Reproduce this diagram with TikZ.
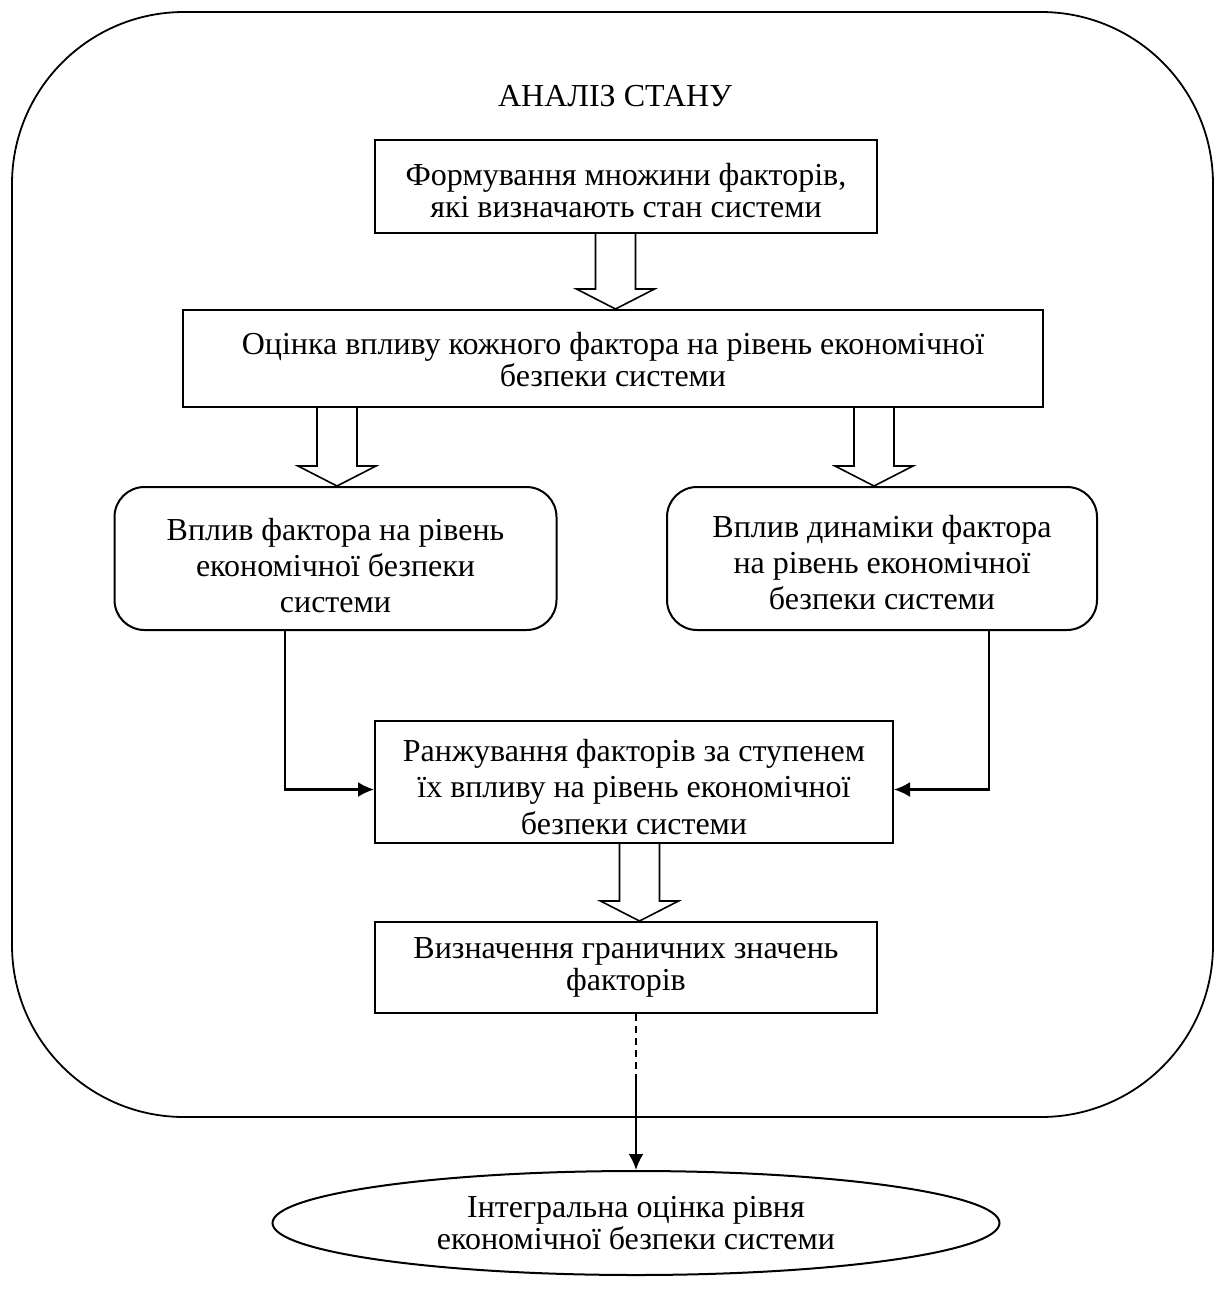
\documentclass[tikz,border=0pt]{standalone}
\usepackage{fontspec}
\setmainfont{Liberation Serif}
\usetikzlibrary{calc,arrows.meta,shapes.geometric}

\tikzset{
  txt/.style={font=\fontsize{16pt}{16pt}\selectfont, align=center},
  wide/.style={font=\fontsize{16pt}{18.2pt}\selectfont},
  box/.style={draw, line width=1pt, inner sep=0pt},
  rbox/.style={box, rounded corners=15pt},
  hollow/.style={draw, line width=0.8pt},
  conn/.style={line width=1.1pt, -{Latex[length=8pt,width=7.5pt]}},
}

% hollow block arrow from the bottom of one node to the top of the next,
% along the vertical line through coordinate #1
\newcommand\hollowarrow[3]{%
  \draw[hollow] let \p1=(#2.south -| #1), \p2=(#3.north -| #1) in
    (\x1-10pt,\y1) -- (\x1-10pt,\y2+10pt) -- (\x1-19.5pt,\y2+10pt)
    -- (\x1,\y2) -- (\x1+19.5pt,\y2+10pt) -- (\x1+10pt,\y2+10pt)
    -- (\x1+10pt,\y1);}

\begin{document}
\begin{tikzpicture}[x=0.5pt, y=-0.5pt]
  \useasboundingbox (0,0) rectangle (1224,1292);

  % outer frame
  \draw[line width=0.9pt, rounded corners=86pt] (12,12) rectangle (1213,1117);
  \node[txt] (title) at (615,96) {АНАЛІЗ СТАНУ};

  % boxes
  \node[box, minimum width=251pt, minimum height=46.5pt] (b1) at (626,186.5) {};
  \node[box, minimum width=430pt, minimum height=48.5pt] (b2) at (613,358.5) {};
  \node[rbox, minimum width=221pt, minimum height=71.5pt] (b3l) at (335.5,558.5) {};
  \node[rbox, minimum width=215pt, minimum height=71.5pt] (b3r) at (882,558.5) {};
  \node[box, minimum width=259pt, minimum height=61pt] (b4) at (634,782) {};
  \node[box, minimum width=251pt, minimum height=45.5pt] (b5) at (626,967.5) {};
  \node[ellipse, draw, line width=1pt, inner sep=0pt,
        minimum width=363.5pt, minimum height=52pt] (e) at (636,1223) {};

  % box texts
  \node[txt] (t1) at ($(b1)+(0,4)$)
    {Формування множини факторів,\\ які визначають стан системи};
  \node[txt] (t2) at ($(b2)+(0,1)$)
    {Оцінка впливу кожного фактора на рівень економічної\\ безпеки системи};
  \node[txt, wide] (t3l) at ($(b3l)+(0,7)$)
    {Вплив фактора на рівень\\ економічної безпеки\\ системи};
  \node[txt, wide] (t3r) at ($(b3r)+(0,4)$)
    {Вплив динаміки фактора\\ на рівень економічної\\ безпеки системи};
  \node[txt, wide] (t4) at ($(b4)+(0,5)$)
    {Ранжування факторів за ступенем\\ їх впливу на рівень економічної\\ безпеки системи};
  \node[txt] (t5) at (b5)
    {Визначення граничних значень\\ факторів};
  \node[txt] (te) at (e)
    {Інтегральна оцінка рівня\\ економічної безпеки системи};

  % block arrows
  \coordinate (a1) at (615.5,0);
  \coordinate (a2) at (337,0);
  \coordinate (a3) at (874,0);
  \coordinate (a4) at (639.5,0);
  \hollowarrow{a1}{b1}{b2}
  \hollowarrow{a2}{b2}{b3l}
  \hollowarrow{a3}{b2}{b3r}
  \hollowarrow{a4}{b4}{b5}

  % side connectors into the ranking box
  \coordinate (j1) at (285,789.5);
  \coordinate (j2) at (989,789.5);
  \draw[conn] (b3l.south -| j1) |- (b4.west |- j1);
  \draw[conn] (b3r.south -| j2) |- (b4.east |- j2);

  % output of the frame to the integral estimate
  \coordinate (d1) at (636,1081);
  \draw[line width=1pt, dash pattern=on 3.5pt off 2.5pt] (b5.south -| d1) -- (d1);
  \draw[conn] (d1) -- (e.north);
\end{tikzpicture}
\end{document}
